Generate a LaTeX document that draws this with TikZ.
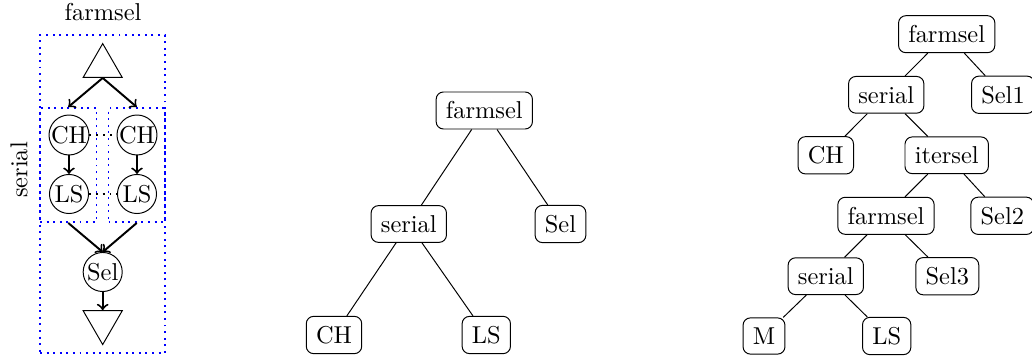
\documentclass[tikz,border=0pt]{standalone}
\usetikzlibrary{shapes.geometric}
\newdimen\px \px=0.4098pt
\begin{document}
\begin{tikzpicture}[x=0.4098pt,y=-0.4098pt,
  tnode/.style={draw, rounded corners=3pt, inner sep=4pt},
  cnode/.style={draw, circle, inner sep=0pt, minimum size=16pt},
  dotbox/.style={draw=blue, line width=0.8pt, dash pattern=on 0.8pt off 1.9pt, inner sep=0pt},
  tri/.style={draw, regular polygon, regular polygon sides=3, minimum size=18.5pt, inner sep=0pt},
  arr/.style={->, thick},
  link/.style={draw}
]
\useasboundingbox (0,0) rectangle (1032,358);
% left diagram
\node (title) at (103,12.5) {farmsel};
\node[rotate=90] (serlab) at (19,170) {serial};
\node[dotbox, minimum width=125\px, minimum height=318\px] (outer) at (102.5,194) {};
\node[dotbox, minimum width=56.5\px, minimum height=114\px] (box1) at (68.25,165) {};
\node[dotbox, minimum width=56.5\px, minimum height=114\px] (box2) at (136.75,165) {};
\node[tri] (top) at (102.7,66.2) {};
\node[tri, shape border rotate=180] (bot) at (102.7,322) {};
\node[cnode] (ch1) at (69,135) {CH};
\node[cnode] (ch2) at (137,135) {CH};
\node[cnode] (ls1) at (69,194) {LS};
\node[cnode] (ls2) at (137,194) {LS};
\node[cnode] (sel) at (102.7,272) {Sel};
\draw[arr] (top.south) -- (box1.north);
\draw[arr] (top.south) -- (box2.north);
\draw[arr] (ch1) -- (ls1);
\draw[arr] (ch2) -- (ls2);
\draw[thick,dotted] (ch1) -- (ch2);
\draw[thick,dotted] (ls1) -- (ls2);
\draw[arr] (box1.south) -- (sel.north);
\draw[arr] (box2.south) -- (sel.north);
\draw[arr] (sel) -- (bot.north);
% middle tree
\node[tnode] (m0) at (484.3,110.5) {farmsel};
\node[tnode] (m1) at (408.8,224) {serial};
\node[tnode] (m2) at (560.5,224) {Sel};
\node[tnode] (m3) at (334,335) {CH};
\node[tnode] (m4) at (486.3,335) {LS};
\draw[link] (m0) -- (m1);
\draw[link] (m0) -- (m2);
\draw[link] (m1) -- (m3);
\draw[link] (m1) -- (m4);
% right tree
\node[tnode] (r0) at (946.7,34.2) {farmsel};
\node[tnode] (r1) at (886.2,94.8) {serial};
\node[tnode] (r2) at (1003,94.8) {Sel1};
\node[tnode] (r3) at (825.8,155.3) {CH};
\node[tnode] (r4) at (946.7,155.3) {itersel};
\node[tnode] (r5) at (886,215.8) {farmsel};
\node[tnode] (r6) at (1002.3,215.8) {Sel2};
\node[tnode] (r7) at (825.8,276.2) {serial};
\node[tnode] (r8) at (947.3,276.2) {Sel3};
\node[tnode] (r9) at (764,336) {M};
\node[tnode] (r10) at (886.7,336) {LS};
\draw[link] (r0) -- (r1);
\draw[link] (r0) -- (r2);
\draw[link] (r1) -- (r3);
\draw[link] (r1) -- (r4);
\draw[link] (r4) -- (r5);
\draw[link] (r4) -- (r6);
\draw[link] (r5) -- (r7);
\draw[link] (r5) -- (r8);
\draw[link] (r7) -- (r9);
\draw[link] (r7) -- (r10);
\end{tikzpicture}
\end{document}
